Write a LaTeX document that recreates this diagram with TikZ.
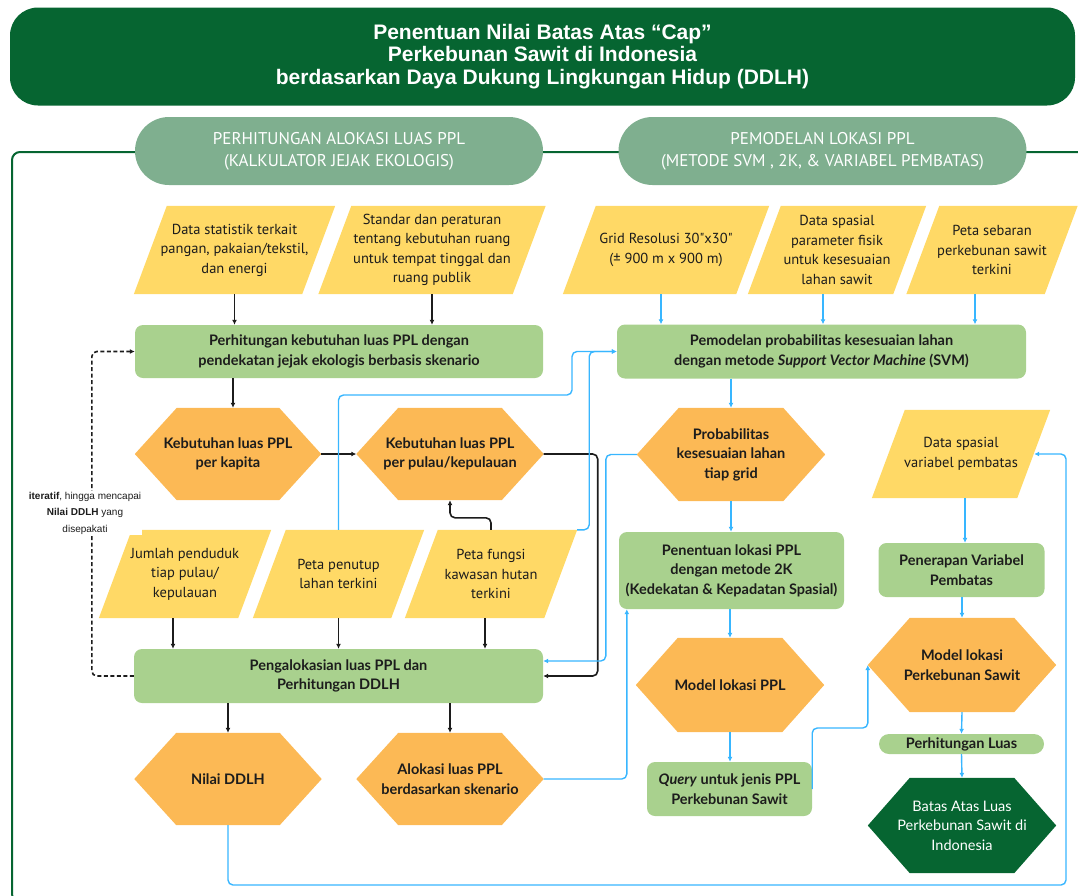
\documentclass[tikz,border=0pt]{standalone}
\usepackage{fontspec}
\setmainfont{Lato}
\newfontfamily\datafont{PT Sans}
\newfontfamily\notefont{Liberation Sans}
\usetikzlibrary{arrows.meta}
\pgfdeclarelayer{background}
\pgfsetlayers{background,main}
\definecolor{hijautua}{HTML}{066531}
\definecolor{hijaupucat}{HTML}{7FAF8F}
\definecolor{hijaumuda}{HTML}{A9D18E}
\definecolor{oranye}{HTML}{FCB955}
\definecolor{kuning}{HTML}{FFD966}
\definecolor{biru}{HTML}{38B6FF}
\definecolor{teks}{HTML}{1C1C1C}
\begin{document}
\begin{tikzpicture}[x=1pt,y=-1pt,
  kepala/.style={rectangle, rounded corners=34pt, fill=hijaupucat, minimum width=408pt, minimum height=68pt, text=white, align=center, font=\datafont\fontsize{17}{22}\selectfont},
  data/.style={rectangle, minimum height=88pt, inner sep=0pt, align=center, text=teks, font=\datafont\fontsize{14.5}{19.5}\selectfont},
  proses/.style={rectangle, rounded corners=8pt, fill=hijaumuda, minimum height=54pt, inner sep=0pt, align=center, text=teks, font=\bfseries\fontsize{14.5}{19.5}\selectfont},
  hasil/.style={rectangle, minimum height=92pt, inner sep=0pt, align=center, text=teks, font=\bfseries\fontsize{14.5}{19.5}\selectfont},
  blk/.style={draw=teks, line width=1.6pt, rounded corners=5pt, -{Latex[length=5pt,width=5pt]}},
  blu/.style={draw=biru, line width=1.4pt, rounded corners=5pt, -{Latex[length=5pt,width=5pt]}}]
\useasboundingbox (0,0) rectangle (1078,895);
\node[fill=hijautua, rounded corners=28pt, minimum width=1065pt, minimum height=98pt, text=white, align=center, font=\notefont\bfseries\fontsize{21}{22.5}\selectfont] (judul) at (542.5,56.5) {Penentuan Nilai Batas Atas “Cap”\\Perkebunan Sawit di Indonesia\\berdasarkan Daya Dukung Lingkungan Hidup (DDLH)};
\draw[hijautua, line width=2pt, rounded corners=8pt] (1095,152) -- (12,152) -- (12,902) -- (1095,902);
\node[kepala] (kiri) at (339,151) {PERHITUNGAN ALOKASI LUAS PPL\\(KALKULATOR JEJAK EKOLOGIS)};
\node[kepala] (kanan) at (822.5,151) {PEMODELAN LOKASI PPL\\(METODE SVM , 2K, \& VARIABEL PEMBATAS)};

\node[data, minimum width=201pt] (p1) at (234.5,250) {Data statistik terkait\\pangan, pakaian/tekstil,\\dan energi};
\node[data, minimum width=227pt] (p2) at (432,250) {Standar dan peraturan\\tentang kebutuhan ruang\\untuk tempat tinggal dan\\ruang publik};
\node[data, minimum width=206pt] (p3) at (666,250) {Grid Resolusi 30"x30"\\(± 900 m x 900 m)};
\node[data, minimum width=178pt] (p4) at (837,250) {Data spasial\\parameter fisik\\untuk kesesuaian\\lahan sawit};
\node[data, minimum width=171pt] (p5) at (992,250) {Peta sebaran\\perkebunan sawit\\terkini};
\node[data, minimum width=178pt] (p6) at (961,454) {Data spasial\\variabel pembatas};
\node[data, minimum width=172pt] (p7) at (185,574) {Jumlah penduduk\\tiap pulau/\\kepulauan};
\node[data, minimum width=171pt] (p8) at (338.5,574) {Peta penutup\\lahan terkini};
\node[data, minimum width=172pt] (p9) at (491,574) {Peta fungsi\\kawasan hutan\\terkini};

\node[proses, minimum width=408pt, minimum height=53pt] (bA) at (339,351.5) {Perhitungan kebutuhan luas PPL dengan\\pendekatan jejak ekologis berbasis skenario};
\node[proses, minimum width=409pt] (bB) at (821.5,351.5) {Pemodelan probabilitas kesesuaian lahan\\dengan metode \textit{Support Vector Machine} (SVM)};
\node[proses, minimum width=409pt] (bC) at (338.5,676) {Pengalokasian luas PPL dan\\Perhitungan DDLH};
\node[proses, minimum width=225pt, minimum height=77pt] (bD) at (731.5,570.5) {Penentuan lokasi PPL\\dengan metode 2K\\(Kedekatan \& Kepadatan Spasial)};
\node[proses, minimum width=165pt] (bE) at (729.5,789) {\textit{Query} untuk jenis PPL\\Perkebunan Sawit};
\node[proses, minimum width=166pt] (bF) at (961.5,570) {Penerapan Variabel\\Pembatas};
\node[proses, minimum width=165pt, minimum height=20pt, rounded corners=10pt] (bG) at (961.5,744) {Perhitungan Luas};

\node[hasil, minimum width=186pt] (h1) at (228,454) {Kebutuhan luas PPL\\per kapita};
\node[hasil, minimum width=187pt] (h2) at (450,454) {Kebutuhan luas PPL\\per pulau/kepulauan};
\node[hasil, minimum width=188pt, minimum height=93pt] (h3) at (731,454.5) {Probabilitas\\kesesuaian lahan\\tiap grid};
\node[hasil, minimum width=187pt] (h4) at (228,779) {Nilai DDLH};
\node[hasil, minimum width=187pt] (h5) at (450,779) {Alokasi luas PPL\\berdasarkan skenario};
\node[hasil, minimum width=188pt, minimum height=94pt] (h6) at (730,685) {Model lokasi PPL};
\node[hasil, minimum width=188pt, minimum height=94pt] (h7) at (962,665) {Model lokasi\\Perkebunan Sawit};
\node[hasil, minimum width=188pt, minimum height=95pt, text=white, font=\fontsize{14.5}{19.5}\selectfont] (h8) at (962,825.5) {Batas Atas Luas\\Perkebunan Sawit di\\Indonesia};
\begin{pgfonlayer}{background}
\foreach \n in {p1,p2,p3,p4,p5,p6,p7,p8,p9}
  \fill[kuning] ([xshift=33pt]\n.north west) -- (\n.north east) -- ([xshift=-33pt]\n.south east) -- (\n.south west) -- cycle;
\foreach \n/\c in {h1/oranye,h2/oranye,h3/oranye,h4/oranye,h5/oranye,h6/oranye,h7/oranye,h8/hijautua}
  \fill[\c] (\n.west) -- ([xshift=42pt]\n.north west) -- ([xshift=-42pt]\n.north east) -- (\n.east) -- ([xshift=-42pt]\n.south east) -- ([xshift=42pt]\n.south west) -- cycle;
\end{pgfonlayer}

\draw[blk] (p1.south) -- (p1.south |- bA.north);
\draw[blk] (p2.south) -- (p2.south |- bA.north);
\draw[blk] ([xshift=5pt]h1.north |- bA.south) -- ([xshift=5pt]h1.north);
\draw[blk] (h1.east) -- (h2.west);
\draw[blk] (h2.east) -- ++(54,0) |- (bC.east);
\draw[blk] (p9.north) -- ++(0,-12) -| (h2.south);
\draw[blk] ([xshift=-12pt]p7.south) -- ([xshift=-12pt]p7.south |- bC.north);
\draw[blk] (p8.south) -- (p8.south |- bC.north);
\draw[blk] ([xshift=-6pt]p9.south) -- ([xshift=-6pt]p9.south |- bC.north);
\draw[blk] (h4.north |- bC.south) -- (h4.north);
\draw[blk] (h5.north |- bC.south) -- (h5.north);
\draw[blk, dash pattern=on 4pt off 2.5pt] (bC.west) -- ++(-42,0) |- (bA.west);
\node[fill=white, inner sep=1pt, align=center, text=teks, font=\notefont\fontsize{10}{16.5}\selectfont] (iter) at (85,513) {\textbf{iteratif}, hingga mencapai\\\textbf{Nilai DDLH} yang\\disepakati};

\coordinate (jA) at (572,395);
\coordinate (lp) at (1066,885);
\draw[blu] ([xshift=-5pt]p3.south) -- ([xshift=-5pt]p3.south |- bB.north);
\draw[blu] ([xshift=-14pt]p4.south) -- ([xshift=-14pt]p4.south |- bB.north);
\draw[blu] ([xshift=-17pt]p5.south) -- ([xshift=-17pt]p5.south |- bB.north);
\draw[blu] (p8.north) |- (jA) |- (bB.west);
\draw[blu] (p9.north east) -- ++(12,0) |- (bB.west);
\draw[blu] (bB.south -| h3.north) -- (h3.north);
\draw[blu] (h3.south) -- (h3.south |- bD.north);
\draw[blu] (h3.west) -- ++(-31,0) |- ([yshift=15pt]bC.east);
\draw[blu] (bD.south -| h6.north) -- (h6.north);
\draw[blu] (h6.south) -- (h6.south |- bE.north);
\draw[blu] (h5.east) -| ([xshift=8pt]bD.south west);
\draw[blu] (bE.east) -- ++(0,-61) -| (h7.west);
\draw[blu] ([xshift=4pt]p6.south) -- ([xshift=4pt]p6.south |- bF.north);
\draw[blu] (bF.south -| h7.north) -- (h7.north);
\draw[blu] (h7.south) -- (bG.north);
\draw[blu] (bG.south) -- (h8.north);
\draw[blu] (h4.south) |- (lp) |- ([xshift=-16pt]p6.east);
\end{tikzpicture}
\end{document}
